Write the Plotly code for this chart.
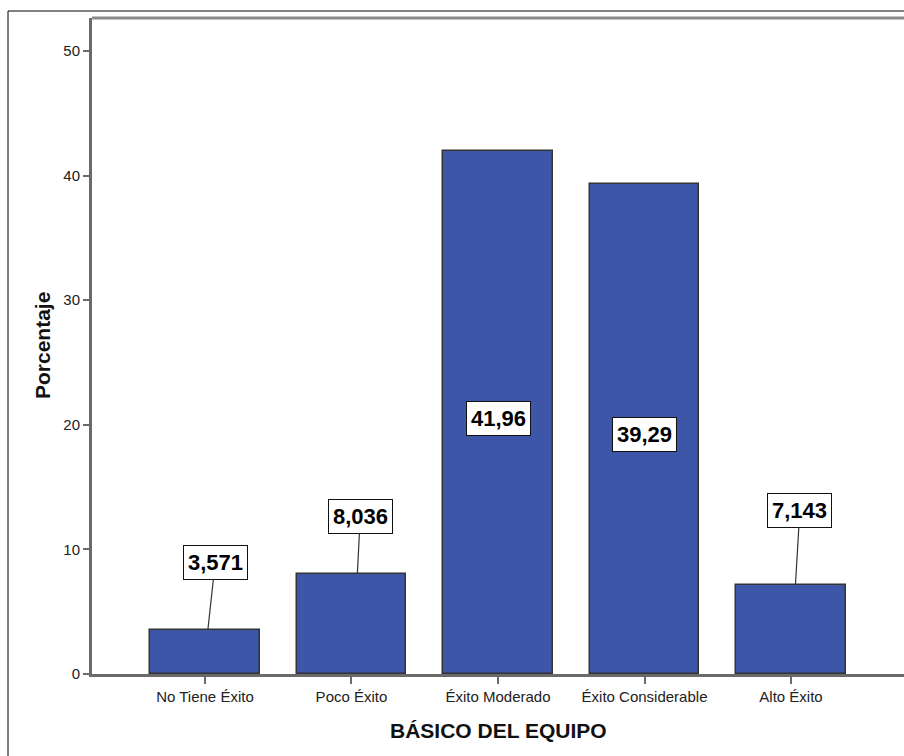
import plotly.graph_objects as go

# Frequency table: BÁSICO DEL EQUIPO
categories = ["No Tiene Éxito", "Poco Éxito", "Éxito Moderado", "Éxito Considerable", "Alto Éxito"]
percentages = [3.571, 8.036, 41.96, 39.29, 7.143]
value_labels = ["3,571", "8,036", "41,96", "39,29", "7,143"]
y_ticks = [0, 10, 20, 30, 40, 50]

BAR_COLOR = "#3d56a8"
AXIS_COLOR = "#6a6a6a"
FONT = "Liberation Sans, Arial, sans-serif"

W, H = 904, 756
ML, MR, MT, MB = 92, 0, 18, 82
plot_w = W - ML - MR
plot_h = H - MT - MB

xpos = list(range(len(categories)))

fig = go.Figure()
fig.add_trace(go.Bar(
    x=xpos,
    y=percentages,
    width=0.75,
    marker=dict(color=BAR_COLOR, line=dict(color="#333333", width=1.5)),
    hoverinfo="skip",
))

# value callouts: short bars get a box above with a leader line,
# tall bars get the box inside at mid-height
lift = {0: 5.4, 1: 4.6, 4: 6.0}
anchor_dx = {0: 0.02, 1: 0.04, 4: 0.03}
box_dx = {0: 0.07, 1: 0.06, 4: 0.06}
annotations = []
box_style = dict(
    font=dict(family=FONT, size=22, color="#000000", weight="bold"),
    bgcolor="#ffffff", bordercolor="#111111", borderwidth=1, borderpad=4,
)
for i, (v, t) in enumerate(zip(percentages, value_labels)):
    if i in lift:
        annotations.append(dict(
            x=i + anchor_dx[i], y=v, xref="x", yref="y",
            ax=i + box_dx[i], ay=v + lift[i], axref="x", ayref="y",
            text=t, showarrow=True, arrowhead=0, arrowwidth=1.2,
            arrowcolor="#333333", standoff=0, startstandoff=0,
            **box_style,
        ))
    else:
        annotations.append(dict(
            x=i, y=v / 2 - 0.45, xref="x", yref="y",
            text=t, showarrow=False, **box_style,
        ))

# axis titles
annotations.append(dict(
    x=(42 - ML) / plot_w, y=0.5, xref="paper", yref="paper",
    text="<b>Porcentaje</b>", textangle=-90, showarrow=False,
    font=dict(family=FONT, size=21, color="#111111"),
    xanchor="center", yanchor="middle",
))
annotations.append(dict(
    x=0.5, y=(plot_h - (730 - MT)) / plot_h, xref="paper", yref="paper",
    text="<b>BÁSICO DEL EQUIPO</b>", showarrow=False,
    font=dict(family=FONT, size=21, color="#111111"),
    xanchor="center", yanchor="middle",
))

fig.update_layout(
    width=W, height=H,
    margin=dict(l=ML, r=MR, t=MT, b=MB, pad=0),
    paper_bgcolor="#ffffff", plot_bgcolor="#ffffff",
    showlegend=False,
    annotations=annotations,
    shapes=[
        # outer chart frame
        dict(
            type="rect", xref="paper", yref="paper",
            x0=(8 - ML) / plot_w, x1=1.05,
            y0=-0.2, y1=1 + (MT - 11) / plot_h,
            line=dict(color="#000000", width=1), layer="below",
        ),
        # lighter top border of the plot area
        dict(
            type="line", xref="paper", yref="paper",
            x0=0, x1=1, y0=1, y1=1,
            line=dict(color="#8a8a8a", width=3),
        ),
    ],
    bargap=0,
)

fig.update_xaxes(
    range=[-0.771, len(categories) - 1 + 0.771],
    tickmode="array", tickvals=xpos, ticktext=categories,
    ticks="outside", ticklen=7, tickwidth=2, tickcolor=AXIS_COLOR,
    showline=True, linecolor=AXIS_COLOR, linewidth=3,
    showgrid=False, zeroline=False, fixedrange=True,
    tickfont=dict(family=FONT, size=15, color="#222222"),
)
fig.update_yaxes(
    range=[0, 52.65],
    tickmode="array", tickvals=y_ticks, ticktext=[str(t) for t in y_ticks],
    ticks="outside", ticklen=6, tickwidth=2, tickcolor=AXIS_COLOR,
    showline=True, linecolor=AXIS_COLOR, linewidth=3,
    showgrid=False, zeroline=False, fixedrange=True,
    tickfont=dict(family=FONT, size=15, color="#222222"),
)

fig.write_html("out.html")
